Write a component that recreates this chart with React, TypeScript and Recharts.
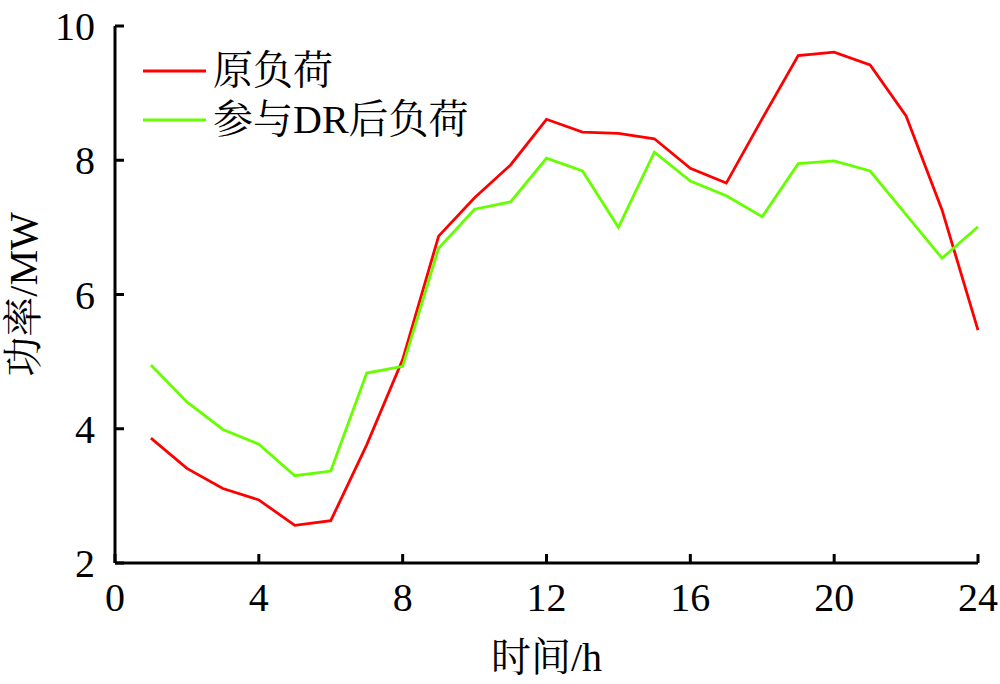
import React from 'react';
import { LineChart, Line, XAxis, YAxis, Legend } from 'recharts';

const hours = [1, 2, 3, 4, 5, 6, 7, 8, 9, 10, 11, 12, 13, 14, 15, 16, 17, 18, 19, 20, 21, 22, 23, 24];
const originalLoad = [3.86, 3.41, 3.11, 2.94, 2.56, 2.63, 3.76, 5.03, 6.87, 7.44, 7.93, 8.61, 8.42, 8.40, 8.32, 7.88, 7.66, 8.62, 9.56, 9.61, 9.42, 8.66, 7.26, 5.47];
const drLoad = [4.95, 4.40, 3.99, 3.77, 3.30, 3.37, 4.83, 4.93, 6.69, 7.27, 7.38, 8.03, 7.84, 7.00, 8.12, 7.69, 7.47, 7.16, 7.95, 7.99, 7.84, 7.19, 6.54, 7.01];
const xTicks = [0, 4, 8, 12, 16, 20, 24];
const yTicks = [2, 4, 6, 8, 10];
const seriesNames = ['原负荷', '参与DR后负荷'];
const seriesColors = ['#ff0000', '#66ff00'];

const data = hours.map((h, i) => ({ h, a: originalLoad[i], b: drLoad[i] }));

const FONT = "'Liberation Serif', 'Times New Roman', 'Noto Serif CJK SC', 'Noto Sans CJK SC', serif";

const LegendContent = (props: any) => {
  const payload = props.payload || [];
  return (
    <div style={{ fontFamily: FONT, fontSize: 40, color: '#000', lineHeight: '49px' }}>
      {payload.map((p: any, i: number) => (
        <div key={i} style={{ display: 'flex', alignItems: 'center', height: 49 }}>
          <svg width={64} height={6} style={{ marginRight: 6 }}>
            <line x1={0} y1={3} x2={63} y2={3} stroke={p.color} strokeWidth={3} />
          </svg>
          <span>{p.value}</span>
        </div>
      ))}
    </div>
  );
};

export default function App() {
  return (
    <div style={{ position: 'absolute', left: 0, top: 0, width: 1000, height: 684, background: '#fff' }}>
      <LineChart
        width={1000}
        height={684}
        data={data}
        margin={{ top: 26, right: 22, bottom: 61, left: 55 }}
        style={{ fontFamily: FONT }}
      >
        <XAxis
          dataKey="h"
          type="number"
          domain={[0, 24]}
          ticks={xTicks}
          height={60}
          axisLine={{ stroke: '#000', strokeWidth: 3 }}
          tickLine={{ stroke: '#000', strokeWidth: 3 }}
          tickSize={-9}
          tickMargin={29}
          tick={{ fill: '#000', fontSize: 40, fontFamily: FONT }}
          interval={0}
          label={{ value: '时间/h', position: 'insideBottom', offset: -48, fill: '#000', fontSize: 40, fontFamily: FONT }}
        />
        <YAxis
          type="number"
          domain={[2, 10]}
          ticks={yTicks}
          width={60}
          axisLine={{ stroke: '#000', strokeWidth: 3 }}
          tickLine={{ stroke: '#000', strokeWidth: 3 }}
          tickSize={-9}
          tickMargin={29}
          tick={{ fill: '#000', fontSize: 40, fontFamily: FONT }}
          interval={0}
          label={{ value: '功率/MW', angle: -90, position: 'center', dx: -62, fill: '#000', fontSize: 40, fontFamily: FONT }}
        />
        <Legend
          layout="vertical"
          verticalAlign="middle"
          align="center"
          content={<LegendContent />}
          wrapperStyle={{ position: 'absolute', left: 143, top: 46, width: 400, bottom: 'auto', right: 'auto' }}
        />
        <Line dataKey="a" name={seriesNames[0]} stroke={seriesColors[0]} strokeWidth={2.8} dot={false} isAnimationActive={false} />
        <Line dataKey="b" name={seriesNames[1]} stroke={seriesColors[1]} strokeWidth={2.8} dot={false} isAnimationActive={false} />
      </LineChart>
    </div>
  );
}
